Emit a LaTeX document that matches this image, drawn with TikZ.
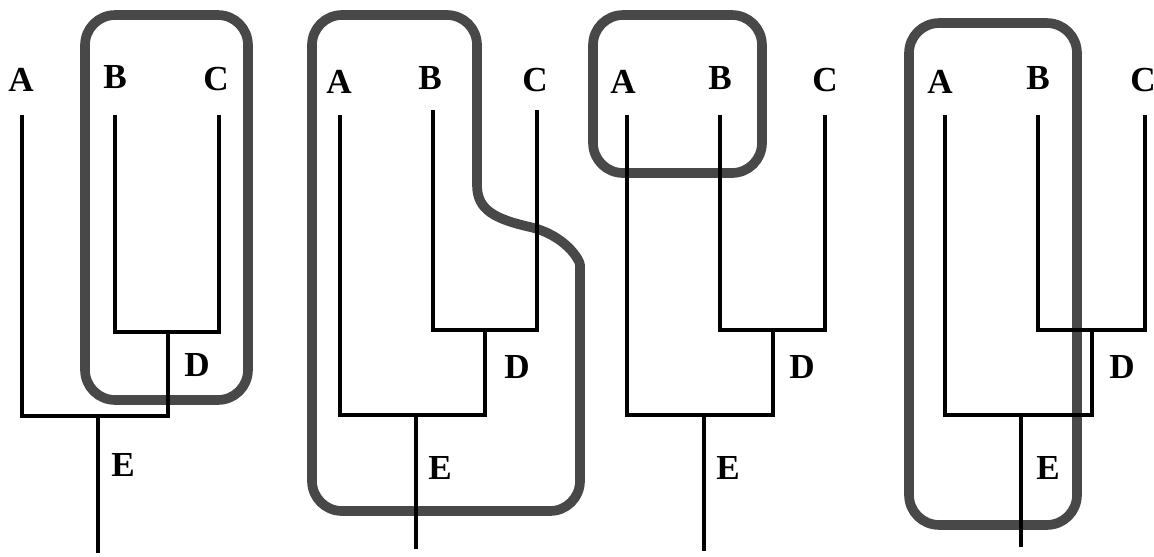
\documentclass[tikz,border=0pt]{standalone}
\usepackage{fontspec}
\setmainfont{Liberation Serif}
\usepackage{tikz}
\definecolor{cladegray}{RGB}{72,72,72}
\tikzstyle{taxon} = [font=\fontsize{20}{20}\selectfont\bfseries, inner sep=0pt]
\tikzstyle{branch} = [line width=2.8pt, black, line join=miter]
\tikzstyle{clade} = [line width=5.5pt, draw=cladegray, rounded corners=0.6cm]
\tikzstyle{cladebox} = [rectangle, draw=cladegray, line width=5.5pt, rounded corners=0.6cm, inner sep=0pt]

\begin{document}
\begin{tikzpicture}[x=0.02cm, y=-0.02cm]
                        \useasboundingbox (0,0) rectangle (1154,556);
                        \node (box1) [cladebox, minimum width=3.26cm, minimum height=7.7cm] at (166.5,207.5) {};
                        \draw [clade] (477,185) -- (477,15) -- (312,15) -- (312,511) -- (580,511) -- (580,295) [sharp corners] .. controls (580,260) and (565,235) .. (530,227) .. controls (495,219) and (477,210) .. (477,185);
                        \node (box3) [cladebox, minimum width=3.38cm, minimum height=3.16cm] at (677.5,94) {};
                        \node (box4) [cladebox, minimum width=3.36cm, minimum height=10.04cm] at (993,274) {};
                        \node (A1) [taxon] at (21,80) {A};
                        \node (B1) [taxon] at (115,77) {B};
                        \node (C1) [taxon] at (216,79) {C};
                        \node (D1) [taxon] at (197,365) {D};
                        \node (E1) [taxon] at (123,465) {E};
                        \coordinate (tipA1) at (22,115);
                        \coordinate (tipB1) at (115,115);
                        \coordinate (tipC1) at (219,115);
                        \coordinate (d1) at (168,332);
                        \coordinate (e1) at (98,416);
                        \coordinate (root1) at (98,553);
                        \draw [branch] (tipB1) |- (d1) -| (tipC1);
                        \draw [branch] (tipA1) |- (e1) -| (d1);
                        \draw [branch] (e1) -- (root1);
                        \node (A2) [taxon] at (339,82) {A};
                        \node (B2) [taxon] at (430,78) {B};
                        \node (C2) [taxon] at (535,80) {C};
                        \node (D2) [taxon] at (517,367) {D};
                        \node (E2) [taxon] at (440,468) {E};
                        \coordinate (tipA2) at (340,115);
                        \coordinate (tipB2) at (433,110);
                        \coordinate (tipC2) at (537,110);
                        \coordinate (d2) at (485,330);
                        \coordinate (e2) at (416,415);
                        \coordinate (root2) at (416,549);
                        \draw [branch] (tipB2) |- (d2) -| (tipC2);
                        \draw [branch] (tipA2) |- (e2) -| (d2);
                        \draw [branch] (e2) -- (root2);
                        \node (A3) [taxon] at (623,82) {A};
                        \node (B3) [taxon] at (720,78) {B};
                        \node (C3) [taxon] at (825,80) {C};
                        \node (D3) [taxon] at (802,367) {D};
                        \node (E3) [taxon] at (728,468) {E};
                        \coordinate (tipA3) at (627,115);
                        \coordinate (tipB3) at (720,115);
                        \coordinate (tipC3) at (825,115);
                        \coordinate (d3) at (773,330);
                        \coordinate (e3) at (704,415);
                        \coordinate (root3) at (704,551);
                        \draw [branch] (tipB3) |- (d3) -| (tipC3);
                        \draw [branch] (tipA3) |- (e3) -| (d3);
                        \draw [branch] (e3) -- (root3);
                        \node (A4) [taxon] at (940,82) {A};
                        \node (B4) [taxon] at (1038,78) {B};
                        \node (C4) [taxon] at (1143,80) {C};
                        \node (D4) [taxon] at (1122,367) {D};
                        \node (E4) [taxon] at (1048,468) {E};
                        \coordinate (tipA4) at (945,115);
                        \coordinate (tipB4) at (1038,115);
                        \coordinate (tipC4) at (1145,115);
                        \coordinate (d4) at (1092,330);
                        \coordinate (e4) at (1021,415);
                        \coordinate (root4) at (1021,547);
                        \draw [branch] (tipB4) |- (d4) -| (tipC4);
                        \draw [branch] (tipA4) |- (e4) -| (d4);
                        \draw [branch] (e4) -- (root4);
                    \end{tikzpicture}
\end{document}
